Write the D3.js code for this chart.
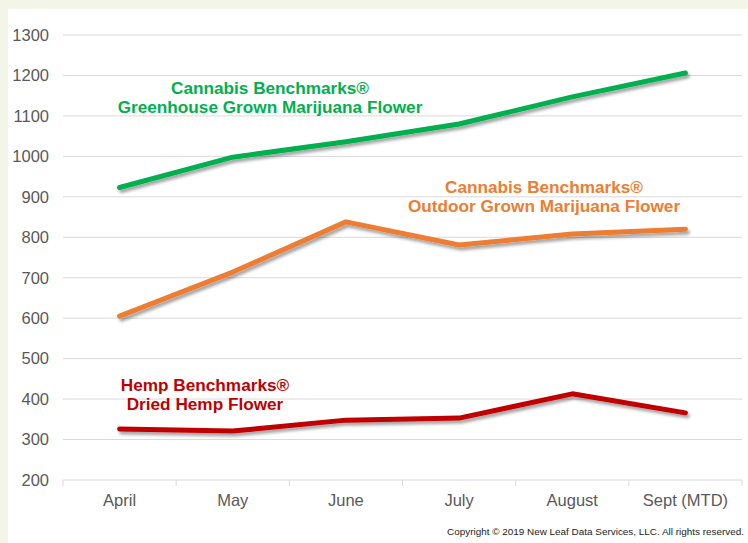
<!DOCTYPE html>
<html lang="en">
<head>
    <meta charset="UTF-8">
    <title>Cannabis and Hemp Benchmarks</title>
    <script src="https://cdn.jsdelivr.net/npm/d3@7"></script>
    <style>
        body { margin: 0; background: #f3f5e9; }
        svg { display: block; font-family: "Liberation Sans", Arial, sans-serif; }
    </style>
</head>
<body>
<div id="chart"></div>
<script>
    const months = ["April", "May", "June", "July", "August", "Sept (MTD)"];
    const greenhouse = [923, 998, 1036, 1080, 1147, 1206];
    const outdoor = [605, 714, 838, 781, 808, 820];
    const hemp = [326, 321, 348, 353, 413, 366];
    const yTicks = [200, 300, 400, 500, 600, 700, 800, 900, 1000, 1100, 1200, 1300];

    const width = 748, height = 543;

    const svg = d3.select("#chart").append("svg")
        .attr("width", width)
        .attr("height", height);

    // drop shadow for the lines
    const defs = svg.append("defs");
    defs.append("filter")
        .attr("id", "shadow")
        .attr("x", "-5%").attr("y", "-20%")
        .attr("width", "110%").attr("height", "140%")
        .append("feDropShadow")
        .attr("dx", 2).attr("dy", 3)
        .attr("stdDeviation", 1.6)
        .attr("flood-color", "#000")
        .attr("flood-opacity", 0.35);

    // white panel
    svg.append("rect")
        .attr("x", 8).attr("y", 9)
        .attr("width", width - 8).attr("height", height - 9)
        .attr("fill", "#fff");

    const x = d3.scaleBand().domain(months).range([63, 742]);
    const y = d3.scaleLinear().domain([200, 1300]).range([480, 35]);
    const cx = d => x(d) + x.bandwidth() / 2;

    // gridlines
    svg.append("g")
        .selectAll("line")
        .data(yTicks)
        .join("line")
        .attr("x1", 63).attr("x2", 742)
        .attr("y1", d => y(d)).attr("y2", d => y(d))
        .attr("stroke", "#d9d9d9")
        .attr("stroke-width", 1);

    // y axis labels
    const gy = svg.append("g")
        .attr("transform", "translate(63,0)")
        .call(d3.axisLeft(y).tickValues(yTicks).tickSize(0).tickPadding(14).tickFormat(d3.format("d")));
    gy.select(".domain").remove();
    gy.selectAll("text")
        .attr("font-size", 16.5)
        .attr("font-family", "'Liberation Sans', Arial, sans-serif")
        .attr("fill", "#595959");

    // x axis: tick marks at category boundaries
    const bounds = months.map(d => x(d)).concat([742]);
    svg.append("g")
        .selectAll("line")
        .data(bounds)
        .join("line")
        .attr("x1", d => d).attr("x2", d => d)
        .attr("y1", 480).attr("y2", 486)
        .attr("stroke", "#d9d9d9");

    svg.append("g")
        .selectAll("text")
        .data(months)
        .join("text")
        .attr("x", cx)
        .attr("y", 506)
        .attr("text-anchor", "middle")
        .attr("font-size", 16.5)
        .attr("fill", "#595959")
        .text(d => d);

    const line = d3.line()
        .x((d, i) => cx(months[i]))
        .y(d => y(d));

    const series = [
        {values: greenhouse, color: "#00b050"},
        {values: outdoor, color: "#ed7d31"},
        {values: hemp, color: "#c00000"}
    ];

    svg.append("g")
        .selectAll("path")
        .data(series)
        .join("path")
        .attr("d", d => line(d.values))
        .attr("fill", "none")
        .attr("stroke", d => d.color)
        .attr("stroke-width", 5)
        .attr("stroke-linejoin", "round")
        .attr("stroke-linecap", "round")
        .attr("filter", "url(#shadow)");

    // series labels
    const labels = [
        {lines: ["Cannabis Benchmarks\u00ae", "Greenhouse Grown Marijuana Flower"], x: 270, y: 94, color: "#00b050"},
        {lines: ["Cannabis Benchmarks\u00ae", "Outdoor Grown Marijuana Flower"], x: 544, y: 193, color: "#ed7d31"},
        {lines: ["Hemp Benchmarks\u00ae", "Dried Hemp Flower"], x: 205, y: 391, color: "#c00000"}
    ];

    labels.forEach(l => {
        svg.append("text")
            .attr("text-anchor", "middle")
            .attr("font-size", 17.2)
            .attr("font-weight", "bold")
            .attr("fill", l.color)
            .selectAll("tspan")
            .data(l.lines)
            .join("tspan")
            .attr("x", l.x)
            .attr("y", (d, i) => l.y + i * 19)
            .text(d => d);
    });

    svg.append("text")
        .attr("x", 744)
        .attr("y", 535)
        .attr("text-anchor", "end")
        .attr("font-size", 9.5)
        .attr("fill", "#222")
        .attr("textLength", 297)
        .attr("lengthAdjust", "spacingAndGlyphs")
        .text("Copyright \u00a9 2019 New Leaf Data Services, LLC. All rights reserved.");
</script>
</body>
</html>
